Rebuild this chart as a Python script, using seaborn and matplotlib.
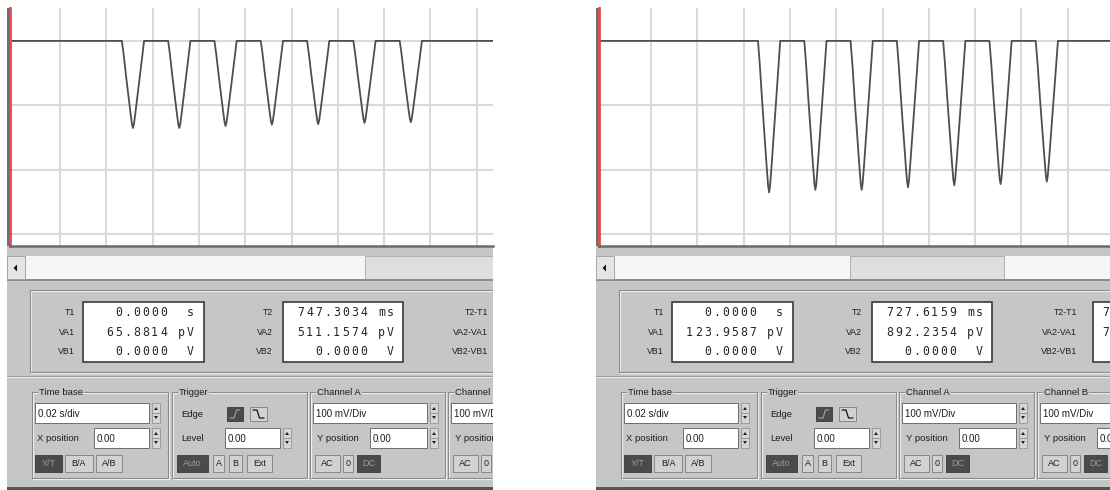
import numpy as np
import pandas as pd
import matplotlib
matplotlib.use("Agg")
import matplotlib.pyplot as plt
import seaborn as sns
from matplotlib import font_manager
from matplotlib.patches import Rectangle, Polygon

# pulses (time in ms, voltage in mV; 0.02 s/div, 100 mV/div)
left_centers = [51.5, 71.5, 91.5, 111.5, 131.5, 151.5, 171.5]
left_depths = [-135, -135, -132, -130, -129, -127, -126]
right_centers = [71.0, 91.0, 111.0, 131.0, 151.0, 171.0, 191.0]
right_depths = [-235, -231, -231, -227, -224, -222, -218]

# one pulse as seen on screen: offset from centre (ms) and fraction of depth
pulse_offsets = [-4.8, -4.0, -3.0, -2.0, -1.0, -0.4, 0.0, 0.4, 1.0, 2.0, 3.0, 4.0, 4.8]
pulse_shape = [0.0, 0.16, 0.40, 0.62, 0.84, 0.96, 1.0, 0.96, 0.84, 0.62, 0.40, 0.18, 0.0]

left_xlim = (-1.6, 207.0)
right_xlim = (-2.5, 218.3)
ylim = (-318, 51)

# readout texts
labels_1 = ["T1", "VA1", "VB1"]
labels_2 = ["T2", "VA2", "VB2"]
labels_3 = ["T2-T1", "VA2-VA1", "VB2-VB1"]
left_box1 = ["0.0000  s", "65.8814 pV", "0.0000  V"]
left_box2 = ["747.3034 ms", "511.1574 pV", "0.0000  V"]
left_box3 = ["747.3034 ms", "445.2760 pV", "0.0000  V"]
right_box1 = ["0.0000  s", "123.9587 pV", "0.0000  V"]
right_box2 = ["727.6159 ms", "892.2354 pV", "0.0000  V"]
right_box3 = ["727.6159 ms", "768.2767 pV", "0.0000  V"]
group_titles = ["Time base", "Trigger", "Channel A", "Channel B"]
timebase = "0.02 s/div"
chan_scale = "100 mV/Div"
pos_value = "0.00"

W, H = 1110, 490
GRAY = "#c6c6c6"

sns.set_theme(style="white")
names = {f.name for f in font_manager.fontManager.ttflist}
UI_FONT = "Liberation Sans Narrow" if "Liberation Sans Narrow" in names else "Liberation Sans"
plt.rcParams["font.family"] = [UI_FONT, "DejaVu Sans"]


def trace(centers, depths, xlim):
    t, v = [xlim[0]], [0.0]
    for c, d in zip(centers, depths):
        for o, f in zip(pulse_offsets, pulse_shape):
            t.append(c + o)
            v.append(d * f)
    t.append(xlim[1])
    v.append(0.0)
    return pd.DataFrame({"t": t, "v": v})


def box(ax, x0, y0, x1, y1, fc, ec="none", lw=0.0, z=1):
    ax.add_patch(Rectangle((x0, y0), x1 - x0, y1 - y0, fc=fc, ec=ec, lw=lw, zorder=z))


def etched(ax, x0, y0, x1, y1):
    ax.add_patch(Rectangle((x0 + 1, y0 + 1), x1 - x0, y1 - y0, fc="none", ec="#f2f2f2", lw=0.8, zorder=2))
    ax.add_patch(Rectangle((x0, y0), x1 - x0, y1 - y0, fc="none", ec="#8a8a8a", lw=0.8, zorder=2))


def lab(ax, x, y, s, ha="left", size=6.8, color="#1e1e1e", bg=None):
    # texts that start beyond the visible edge of the panel are not drawn
    if ax.get_xlim()[1] - x < (2 if ha == "left" else -40):
        return
    kw = {}
    if bg:
        kw["bbox"] = dict(fc=bg, ec="none", pad=0.6)
    ax.text(x, y, s, ha=ha, va="center", fontsize=size, color=color, clip_on=True, zorder=4, **kw)


def mono(ax, x_right, y, s, pitch=9):
    n = len(s)
    edge = ax.get_xlim()[1]
    for i, ch in enumerate(s):
        xc = x_right - (n - i - 0.5) * pitch
        if ch != " " and xc - pitch / 2 < edge - 2:
            ax.text(xc, y, ch, ha="center", va="center",
                    family="DejaVu Sans Mono", fontsize=8.3, color="#262626", clip_on=True, zorder=4)


def button(ax, x0, x1, y0, y1, s, dark=False):
    if dark:
        box(ax, x0, y0, x1, y1, "#4a4a4a", "#3a3a3a", 0.6, z=3)
        lab(ax, (x0 + x1) / 2, (y0 + y1) / 2, s, ha="center", size=6.5, color="#9c9c9c")
    else:
        box(ax, x0, y0, x1, y1, "#d2d2d2", "#7c7c7c", 0.6, z=3)
        lab(ax, (x0 + x1) / 2, (y0 + y1) / 2, s, ha="center", size=6.5)


def field(ax, x0, x1, y0, y1, s):
    box(ax, x0, y0, x1, y1, "white", "#6e6e6e", 0.7, z=3)
    lab(ax, x0 + 3, (y0 + y1) / 2 + 0.5, s, size=7)


def spinner(ax, x0, y0, y1):
    x1 = x0 + 8
    ym = (y0 + y1) / 2
    box(ax, x0, y0, x1, ym, "#d6d6d6", "#8a8a8a", 0.5, z=3)
    box(ax, x0, ym, x1, y1, "#d6d6d6", "#8a8a8a", 0.5, z=3)
    cx = (x0 + x1) / 2
    ax.add_patch(Polygon([(cx - 2, ym - 3), (cx + 2, ym - 3), (cx, ym - 6)], fc="#202020", ec="none", zorder=4))
    ax.add_patch(Polygon([(cx - 2, ym + 3), (cx + 2, ym + 3), (cx, ym + 6)], fc="#202020", ec="none", zorder=4))


def panel(fig, px0, px1, offset, thumb, boxes):
    ax = fig.add_axes([px0 / W, 0, (px1 - px0) / W, 1])
    ax.set_xlim(px0 - offset, px1 - offset)
    ax.set_ylim(H, 0)
    ax.axis("off")
    big = 700
    # body of the instrument
    box(ax, 7, 246, big, 487, GRAY)
    box(ax, 7, 487, big, 490, "#555555")
    box(ax, 7, 8, 9.5, 246, "#6e6e6e")
    # scroll bar
    box(ax, 7, 256, big, 279, "#f5f5f5")
    box(ax, thumb[0], 256, thumb[1], 279, "#dedede", "#a6a6a6", 0.6)
    box(ax, 7, 279, big, 281, "#8c8c8c")
    box(ax, 7, 256, 25, 279, "#e4e4e4", "#9a9a9a", 0.6, z=2)
    ax.add_patch(Polygon([(13.5, 268), (17, 264.5), (17, 271.5)], fc="#111111", ec="none", zorder=3))
    # readout area
    etched(ax, 30, 290, big, 372)
    box(ax, 7, 376, big, 377, "#9a9a9a")
    box(ax, 7, 377, big, 378, "#ececec")
    rows = [312, 332, 351]
    for labels, xr in zip([labels_1, labels_2, labels_3], [75, 273, 488]):
        for s, y in zip(labels, rows):
            lab(ax, xr, y, s, ha="right", size=6.3)
    for (bx0, bx1, xr), vals in zip([(83, 204, 195), (283, 403, 395), (504, 625, 611)], boxes):
        box(ax, bx0, 302, bx1, 362, "white", "#3a3a3a", 1.2, z=3)
        for s, y in zip(vals, rows):
            mono(ax, xr, y, s)
    # control groups
    for gx0, gx1, title in zip([32, 172, 310, 448], [168, 307, 445, 583], group_titles):
        etched(ax, gx0, 392, gx1, 478)
        lab(ax, gx0 + 7, 392, title, size=6.8, bg=GRAY)
    # time base
    field(ax, 35, 149, 403, 423, timebase)
    spinner(ax, 152, 403, 423)
    lab(ax, 37, 438, "X position")
    field(ax, 94, 149, 428, 448, pos_value)
    spinner(ax, 152, 428, 448)
    button(ax, 35, 62, 455, 472, "Y/T", dark=True)
    button(ax, 65, 93, 455, 472, "B/A")
    button(ax, 96, 122, 455, 472, "A/B")
    # trigger
    lab(ax, 181, 414, "Edge")
    box(ax, 227, 407, 243, 421, "#4a4a4a", "#3a3a3a", 0.6, z=3)
    ax.plot([230, 234, 236.5, 240], [418, 418, 410, 410], color="#9a9a9a", lw=0.9, zorder=4)
    box(ax, 250, 407, 267, 421, "#d2d2d2", "#7c7c7c", 0.6, z=3)
    ax.plot([253, 257, 259.5, 264], [410, 410, 418, 418], color="#111111", lw=0.9, zorder=4)
    lab(ax, 181, 438, "Level")
    field(ax, 225, 280, 428, 448, pos_value)
    spinner(ax, 283, 428, 448)
    button(ax, 177, 208, 455, 472, "Auto", dark=True)
    button(ax, 213, 224, 455, 472, "A")
    button(ax, 229, 242, 455, 472, "B")
    button(ax, 247, 272, 455, 472, "Ext")
    # channel A and channel B
    for dx in [0, 138]:
        field(ax, 313 + dx, 427 + dx, 403, 423, chan_scale)
        spinner(ax, 430 + dx, 403, 423)
        lab(ax, 317 + dx, 438, "Y position")
        field(ax, 370 + dx, 427 + dx, 428, 448, pos_value)
        spinner(ax, 430 + dx, 428, 448)
        button(ax, 315 + dx, 340 + dx, 455, 472, "AC")
        button(ax, 343 + dx, 353 + dx, 455, 472, "0")
        button(ax, 357 + dx, 380 + dx, 455, 472, "DC", dark=True)
    return ax


def screen(fig, px0, px1, df, xlim):
    ax = fig.add_axes([px0 / W, (H - 246) / H, (px1 - px0) / W, (246 - 8) / H])
    ax.set_facecolor("white")
    ax.set_xlim(xlim)
    ax.set_ylim(ylim)
    ax.set_xticks(np.arange(20, xlim[1], 20))
    ax.set_yticks([-300, -200, -100, 0])
    ax.grid(True, color="#dadada", lw=1.5)
    ax.tick_params(length=0, labelbottom=False, labelleft=False)
    for s in ["top", "right"]:
        ax.spines[s].set_visible(False)
    ax.spines["left"].set_color("#e04c4c")
    ax.spines["left"].set_linewidth(2.0)
    ax.spines["bottom"].set_color("#6a6a6a")
    ax.spines["bottom"].set_linewidth(1.8)
    sns.lineplot(data=df, x="t", y="v", ax=ax, color="#4e4e4e", linewidth=1.3,
                 estimator=None, sort=False)
    ax.set_xlabel("")
    ax.set_ylabel("")
    return ax


fig = plt.figure(figsize=(W / 100, H / 100), dpi=100, facecolor="white")

panel(fig, 0, 493, 0, (365, 700), [left_box1, left_box2, left_box3])
panel(fig, 595, 1110, 589, (850 - 589, 1004 - 589), [right_box1, right_box2, right_box3])

screen(fig, 10, 493, trace(left_centers, left_depths, left_xlim), left_xlim)
screen(fig, 599, 1110, trace(right_centers, right_depths, right_xlim), right_xlim)

fig.savefig("out.png", dpi=100, facecolor="white")
